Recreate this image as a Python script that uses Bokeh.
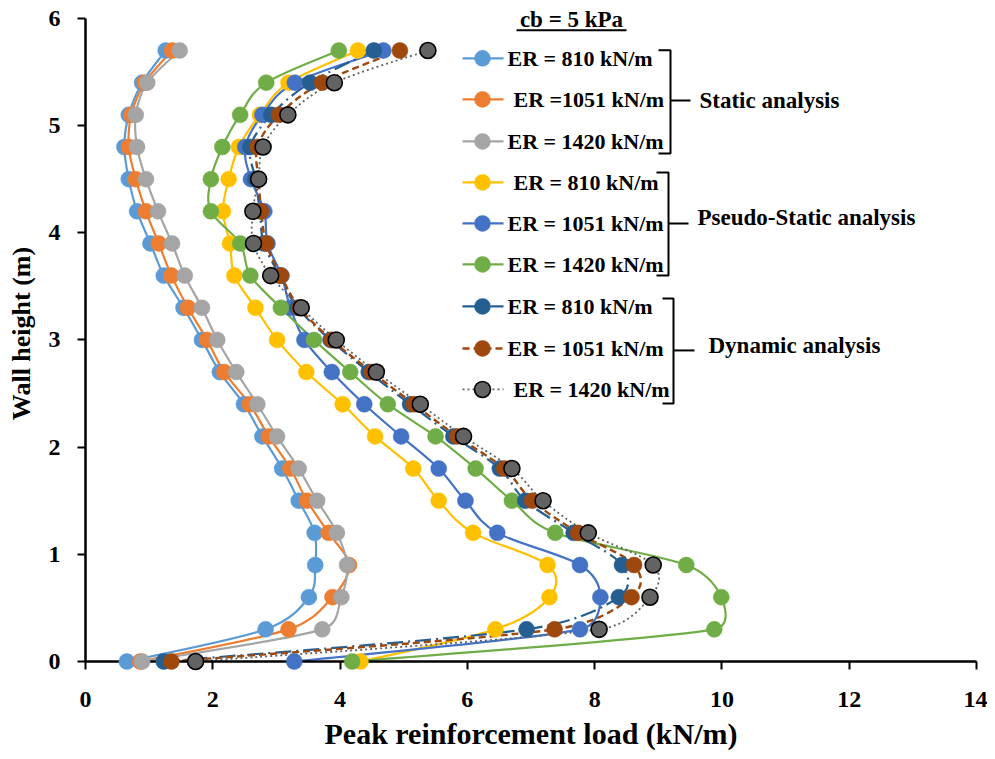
import numpy as np
from bokeh.plotting import figure
from bokeh.models import Range1d, FixedTicker, Label, ColumnDataSource
from bokeh.embed import file_html
from bokeh.resources import INLINE

# ---------------- data ----------------
heights = [0, 0.3, 0.6, 0.9, 1.2, 1.5, 1.8, 2.1, 2.4, 2.7, 3.0, 3.3, 3.6, 3.9, 4.2, 4.5, 4.8, 5.1, 5.4, 5.7]

static_810 = [0.65, 2.83, 3.51, 3.61, 3.60, 3.35, 3.09, 2.78, 2.49, 2.11, 1.83, 1.54, 1.23, 1.02, 0.81, 0.68, 0.61, 0.68, 0.89, 1.26]
static_1051 = [0.86, 3.19, 3.88, 4.14, 3.82, 3.48, 3.22, 2.88, 2.58, 2.18, 1.91, 1.61, 1.35, 1.15, 0.95, 0.79, 0.68, 0.72, 0.93, 1.36]
static_1420 = [0.89, 3.72, 4.02, 4.11, 3.95, 3.64, 3.35, 3.01, 2.70, 2.37, 2.07, 1.83, 1.56, 1.36, 1.14, 0.95, 0.81, 0.79, 0.97, 1.48]

pseudo_810 = [4.32, 6.44, 7.29, 7.26, 6.09, 5.55, 5.15, 4.55, 4.04, 3.47, 3.01, 2.67, 2.34, 2.27, 2.16, 2.25, 2.41, 2.74, 3.19, 4.28]
pseudo_1051 = [3.28, 7.77, 8.09, 7.77, 6.47, 5.97, 5.55, 4.96, 4.38, 3.87, 3.44, 3.22, 3.08, 2.86, 2.81, 2.60, 2.51, 2.78, 3.29, 4.68]
pseudo_1420 = [4.19, 9.88, 9.99, 9.44, 7.38, 6.70, 6.13, 5.50, 4.75, 4.16, 3.59, 3.07, 2.59, 2.43, 1.97, 1.97, 2.15, 2.43, 2.84, 3.98]

dynamic_810 = [1.23, 6.93, 8.38, 8.43, 7.67, 6.91, 6.51, 5.78, 5.10, 4.45, 3.85, 3.33, 3.05, 2.80, 2.74, 2.67, 2.59, 2.92, 3.53, 4.53]
dynamic_1051 = [1.35, 7.37, 8.58, 8.62, 7.74, 7.02, 6.58, 5.84, 5.16, 4.50, 3.87, 3.36, 3.07, 2.84, 2.76, 2.72, 2.70, 3.04, 3.72, 4.94]
dynamic_1420 = [1.73, 8.07, 8.87, 8.92, 7.90, 7.19, 6.70, 5.94, 5.26, 4.57, 3.94, 3.39, 2.91, 2.64, 2.63, 2.72, 2.79, 3.18, 3.91, 5.38]

series_values = [static_810, static_1051, static_1420,
                 pseudo_810, pseudo_1051, pseudo_1420,
                 dynamic_810, dynamic_1051, dynamic_1420]
legend_labels = ["ER = 810 kN/m", "ER =1051 kN/m", "ER = 1420 kN/m",
                 "ER = 810 kN/m", "ER = 1051 kN/m", "ER = 1420 kN/m",
                 "ER = 810 kN/m", "ER = 1051 kN/m", "ER = 1420 kN/m"]
group_labels = ["Static analysis", "Pseudo-Static analysis", "Dynamic analysis"]
legend_title = "cb = 5 kPa"
x_ticks = [0, 2, 4, 6, 8, 10, 12, 14]
y_ticks = [0, 1, 2, 3, 4, 5, 6]
x_title = "Peak reinforcement load (kN/m)"
y_title = "Wall height (m)"

# ---------------- styles ----------------
colors = ["#5B9BD5", "#ED7D31", "#A5A5A5", "#FFC000", "#4472C4", "#70AD47",
          "#255E91", "#9E480E", "#636363"]
dashes = ["solid"] * 6 + ["16 5 2 5", "7 4", "2 3"]
line_widths = [2.2] * 6 + [2.2, 2.4, 1.8]
outline = [None] * 8 + ["black"]
FONT = "Liberation Serif"

XMAX, YMAX, YTOP = 14, 6, 6.12          # frame extends a little above the axis end
SX = 891 / XMAX
SY = 643 / YMAX
FRAME_W = 891
FRAME_H = int(round(SY * YTOP))
LEFT, RIGHT, BOTTOM = 85, 11, 94
TOP = int(round(18 - SY * (YTOP - YMAX)))

p = figure(frame_width=FRAME_W, frame_height=FRAME_H,
           x_range=Range1d(0, XMAX), y_range=Range1d(0, YTOP),
           output_backend="svg", toolbar_location=None,
           min_border_left=LEFT, min_border_top=TOP,
           min_border_right=RIGHT, min_border_bottom=BOTTOM)
p.background_fill_color = "white"
p.border_fill_color = "white"
p.outline_line_color = None
p.xgrid.visible = False
p.ygrid.visible = False

p.xaxis.ticker = FixedTicker(ticks=x_ticks)
p.yaxis.ticker = FixedTicker(ticks=y_ticks)
p.yaxis.bounds = (0, YMAX)
p.xaxis.axis_label = x_title
p.yaxis.axis_label = y_title
for ax in (p.xaxis[0], p.yaxis[0]):
    ax.axis_line_color = "black"
    ax.axis_line_width = 2.5
    ax.major_tick_line_color = "black"
    ax.major_tick_line_width = 2
    ax.major_tick_out = 8
    ax.major_tick_in = 0
    ax.minor_tick_line_color = None
    ax.major_label_text_font = FONT
    ax.major_label_text_font_style = "bold"
    ax.major_label_text_font_size = "24px"
    ax.major_label_text_color = "black"
    ax.axis_label_text_font = FONT
    ax.axis_label_text_font_style = "bold"
    ax.axis_label_text_color = "black"
p.xaxis.major_label_standoff = 22
p.xaxis.axis_label_standoff = 7
p.xaxis.axis_label_text_font_size = "30px"
p.yaxis.major_label_standoff = 17
p.yaxis.axis_label_standoff = 10
p.yaxis.axis_label_text_font_size = "26px"


def smooth_segments(xs, ys):
    """Bezier control points for a spreadsheet-style smoothed line."""
    pts = np.column_stack([xs, ys]).astype(float)
    scr = pts * np.array([SX, SY])
    n = len(pts)
    seg = {k: [] for k in ("x0", "y0", "x1", "y1", "cx0", "cy0", "cx1", "cy1")}
    for i in range(n - 1):
        i0 = i - 1 if i > 0 else i
        i3 = i + 2 if i + 2 < n else i + 1
        p0, p1, p2, p3 = pts[i0], pts[i], pts[i + 1], pts[i3]
        d12 = np.linalg.norm(scr[i + 1] - scr[i])
        d02 = np.linalg.norm(scr[i + 1] - scr[i0])
        d13 = np.linalg.norm(scr[i3] - scr[i])
        f = 1.0 / 6.0
        g = 1.0 / 6.0
        if d02 > 0 and d02 / 6.0 > d12 / 2.0:
            f = d12 / (2.0 * d02)
        if d13 > 0 and d13 / 6.0 > d12 / 2.0:
            g = d12 / (2.0 * d13)
        c1 = p1 + (p2 - p0) * f
        c2 = p2 - (p3 - p1) * g
        seg["x0"].append(p1[0]); seg["y0"].append(p1[1])
        seg["x1"].append(p2[0]); seg["y1"].append(p2[1])
        seg["cx0"].append(c1[0]); seg["cy0"].append(c1[1])
        seg["cx1"].append(c2[0]); seg["cy1"].append(c2[1])
    return ColumnDataSource(seg)


for vals, col, dash, lw, oc in zip(series_values, colors, dashes, line_widths, outline):
    p.bezier(x0="x0", y0="y0", x1="x1", y1="y1", cx0="cx0", cy0="cy0", cx1="cx1", cy1="cy1",
             source=smooth_segments(vals, heights), line_color=col, line_width=lw, line_dash=dash)
    r = p.scatter(x=vals, y=heights, size=16, fill_color=col,
                  line_color=(oc if oc else col), line_width=(1.6 if oc else 0.5))
    r.level = "overlay"


# ---------------- hand-made legend (page pixel layout -> data) ----------------
def px2x(px):
    return (px - LEFT) / SX


def px2y(py):
    return (661.0 - py) / SY


row_py = [58, 99, 141, 182, 223, 264, 306, 348, 389]
text_px = [507, 513, 507, 513, 507, 507, 507, 507, 513]
for i in range(9):
    yy = px2y(row_py[i])
    p.line([px2x(462), px2x(503)], [yy, yy], line_color=colors[i],
           line_width=line_widths[i], line_dash=dashes[i])
    p.scatter([px2x(482)], [yy], size=16, fill_color=colors[i],
              line_color=(outline[i] if outline[i] else colors[i]),
              line_width=(1.6 if outline[i] else 0.5))
    p.add_layout(Label(x=px2x(text_px[i]), y=yy, text=legend_labels[i],
                       text_font=FONT, text_font_style="bold", text_font_size="22px",
                       text_color="black", text_align="left", text_baseline="middle"))

p.add_layout(Label(x=px2x(571), y=px2y(19), text=legend_title,
                   text_font=FONT, text_font_style="bold", text_font_size="23px",
                   text_color="black", text_align="center", text_baseline="middle"))
p.line([px2x(516), px2x(626)], [px2y(30), px2y(30)], line_color="black", line_width=2)

brackets = [(658, 670, 50, 153, 100, 690), (656, 668, 172, 275, 223, 688), (662, 673, 298, 403, 350, 694)]
group_px = [(699, 100), (697, 217), (708, 345)]
for (xl, xv, yt, yb, ym, xm), (gx, gy), g in zip(brackets, group_px, group_labels):
    p.line([px2x(xl), px2x(xv), px2x(xv), px2x(xl)], [px2y(yt), px2y(yt), px2y(yb), px2y(yb)],
           line_color="black", line_width=2)
    p.line([px2x(xv), px2x(xm)], [px2y(ym), px2y(ym)], line_color="black", line_width=2)
    p.add_layout(Label(x=px2x(gx), y=px2y(gy), text=g,
                       text_font=FONT, text_font_style="bold", text_font_size="23px",
                       text_color="black", text_align="left", text_baseline="middle"))

open("out.html", "w").write(file_html(p, INLINE))
